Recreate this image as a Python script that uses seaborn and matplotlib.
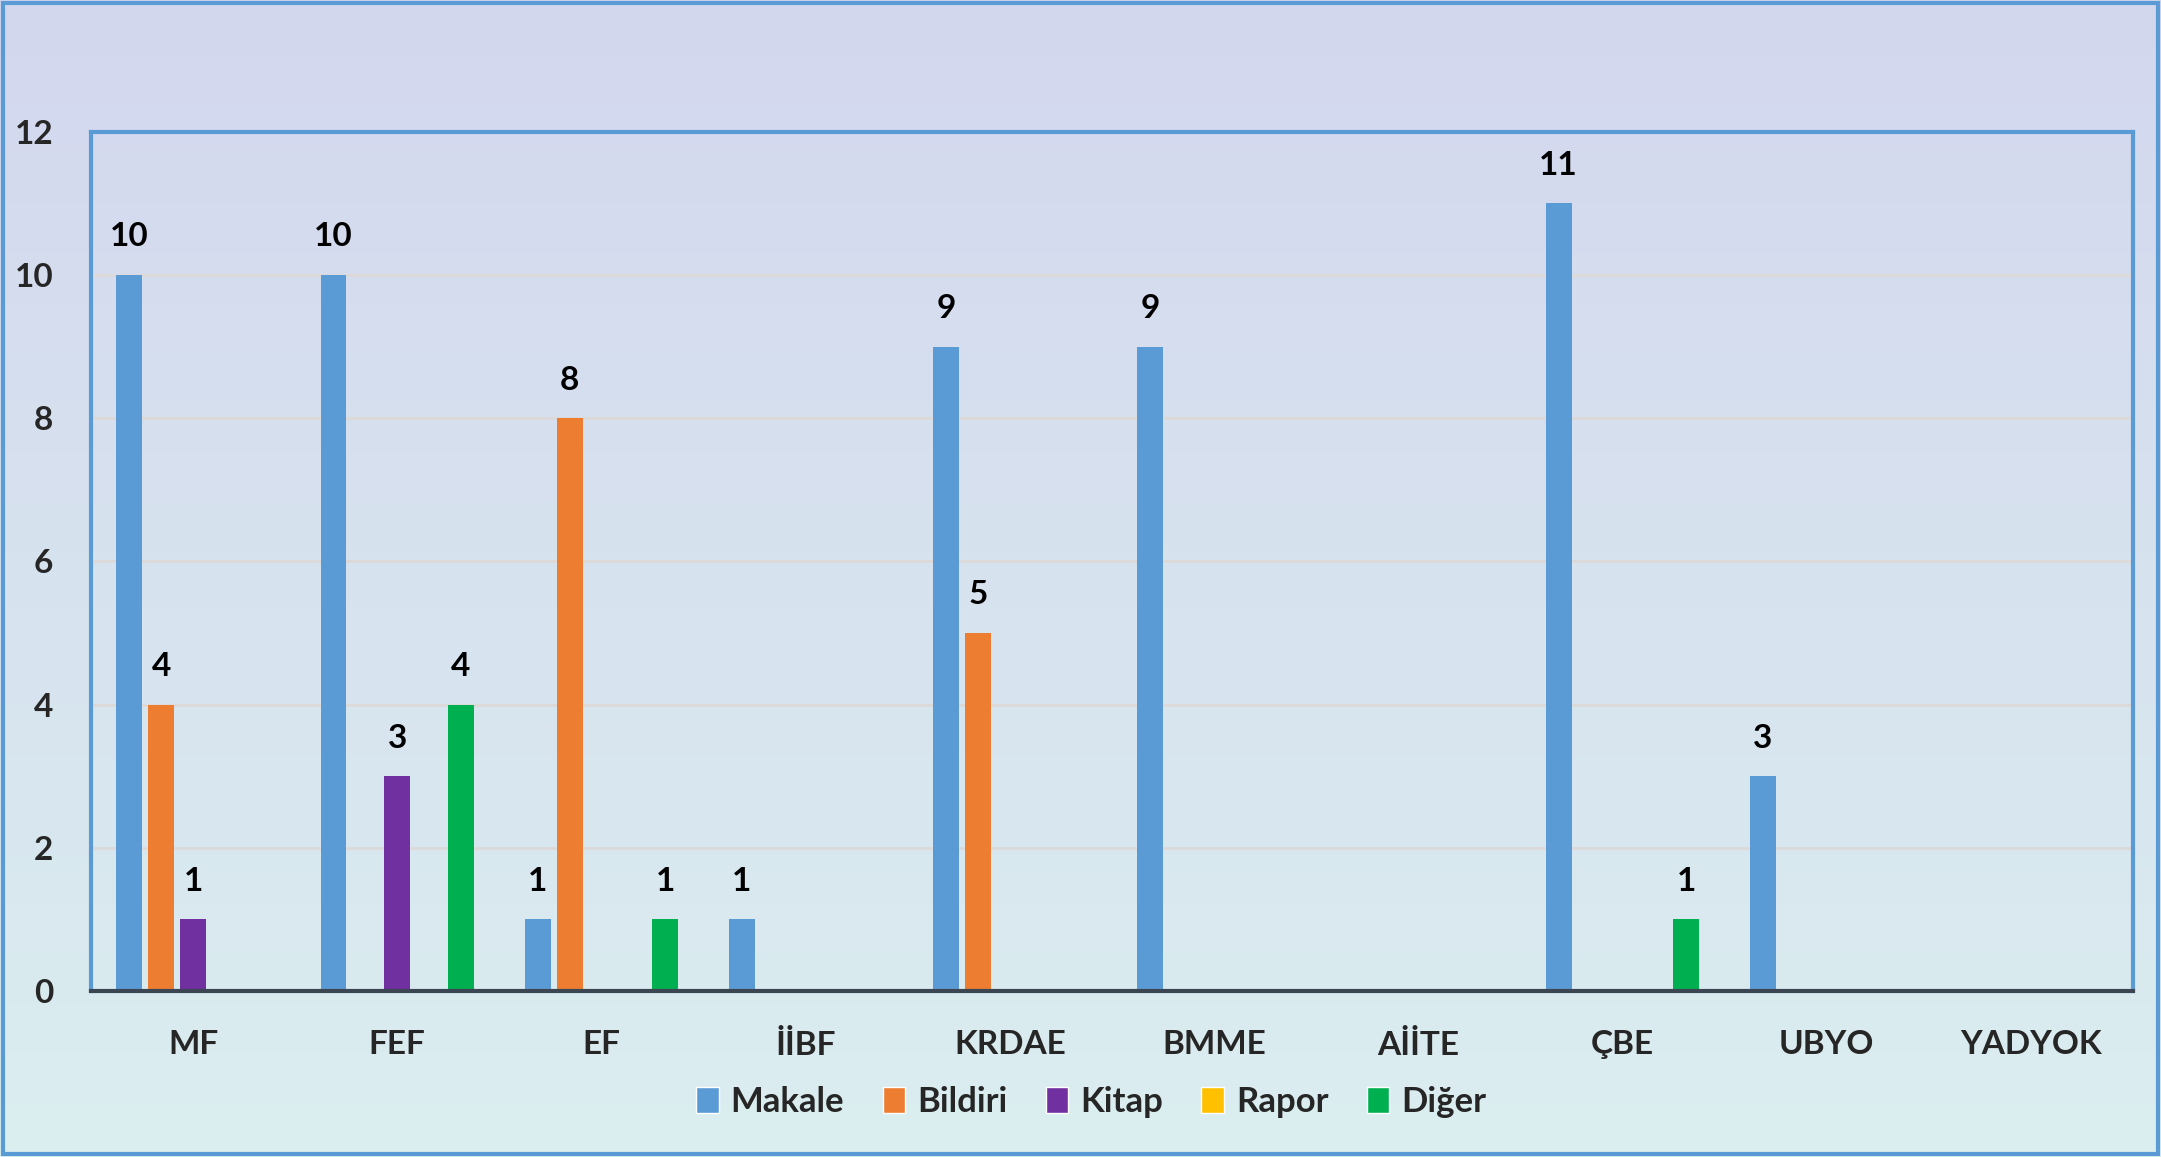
import pandas as pd
import numpy as np
import matplotlib
matplotlib.use('Agg')
import matplotlib.pyplot as plt
import seaborn as sns
from matplotlib.patches import Patch, Rectangle

# chart data
birimler = ['MF', 'FEF', 'EF', 'İİBF', 'KRDAE', 'BMME', 'AİİTE', 'ÇBE', 'UBYO', 'YADYOK']
makale = [10, 10, 1, 1, 9, 9, 0, 11, 3, 0]
bildiri = [4, 0, 8, 0, 5, 0, 0, 0, 0, 0]
kitap = [1, 3, 0, 0, 0, 0, 0, 0, 0, 0]
rapor = [0, 0, 0, 0, 0, 0, 0, 0, 0, 0]
diger = [0, 4, 1, 0, 0, 0, 0, 1, 0, 0]
turler = ['Makale', 'Bildiri', 'Kitap', 'Rapor', 'Diğer']
renkler = ['#5B9BD5', '#ED7D31', '#7030A0', '#FFC000', '#00B050']

seriler = [makale, bildiri, kitap, rapor, diger]
rows = []
for tur, vals in zip(turler, seriler):
    for b, v in zip(birimler, vals):
        rows.append({'Birim': b, 'Tür': tur, 'Sayı': v})
df = pd.DataFrame(rows)

sns.set_style('white')
plt.rcParams['font.family'] = ['Lato', 'DejaVu Sans']
plt.rcParams['font.weight'] = 'bold'

fig = plt.figure(figsize=(21.61, 11.57), dpi=100)

# gradient background
bg = fig.add_axes([0, 0, 1, 1], zorder=-10)
top = np.array([211, 215, 238]) / 255
bot = np.array([219, 238, 240]) / 255
t = np.linspace(0, 1, 256)[:, None]
grad = (top[None, :] * (1 - t) + bot[None, :] * t)[:, None, :]
bg.imshow(grad, aspect='auto', extent=[0, 1, 0, 1])
bg.set_xlim(0, 1)
bg.set_ylim(0, 1)
bg.axis('off')
bg.add_patch(Rectangle((0.0015, 0.0025), 0.997, 0.995, fill=False,
                       edgecolor='#5B9BD5', lw=3, transform=bg.transAxes))

ax = fig.add_axes([0.0421, 0.1435, 0.9449, 0.7425])
ax.set_facecolor('none')

sns.barplot(data=df, x='Birim', y='Sayı', hue='Tür', hue_order=turler,
            palette=renkler, width=0.78, gap=0.19, ax=ax, legend=False,
            linewidth=0, saturation=1)

for cont, vals in zip(ax.containers, seriler):
    ax.bar_label(cont, labels=[str(v) if v > 0 else '' for v in vals],
                 padding=17, fontsize=24, fontweight='bold', color='black')

ax.set_ylim(0, 12)
ax.set_xlim(-0.5, len(birimler) - 0.5)
ax.set_yticks(range(0, 13, 2))
ax.yaxis.grid(True, color='#DDD9D9', lw=2)
ax.set_axisbelow(True)
ax.set_xlabel('')
ax.set_ylabel('')

ax.tick_params(axis='y', length=0, pad=27, labelsize=24)
ax.tick_params(axis='x', which='major', length=0, pad=28, labelsize=24)
ax.set_xticks(np.arange(-0.5, len(birimler), 1), minor=True)
ax.tick_params(axis='x', which='minor', direction='inout', length=19, width=2.5, color='#3B4652')

for s in ['top', 'left', 'right']:
    ax.spines[s].set_color('#5B9BD5')
    ax.spines[s].set_linewidth(3)
ax.spines['bottom'].set_color('#3B4652')
ax.spines['bottom'].set_linewidth(3)

handles = [Patch(facecolor=c, label=l) for c, l in zip(renkler, turler)]
fig.legend(handles=handles, loc='center', bbox_to_anchor=(0.505, 1 - 1102 / 1157),
           ncol=5, frameon=False, fontsize=25, handlelength=0.65, handleheight=0.8,
           handletextpad=0.35, columnspacing=1.1)

plt.savefig('out.png', dpi=100)
